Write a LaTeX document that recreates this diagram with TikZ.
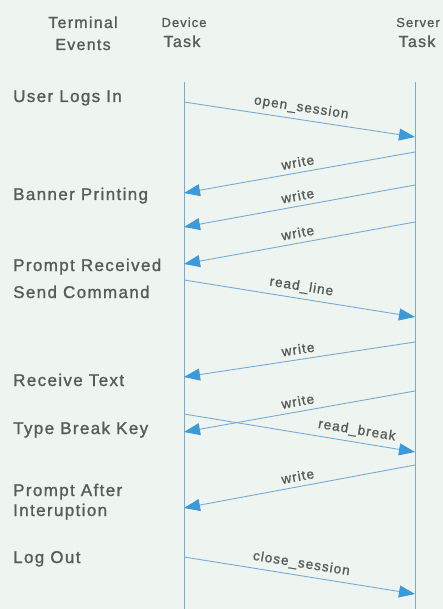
\documentclass[tikz,border=0pt]{standalone}
\usepackage{fontspec}
\setmainfont{Liberation Sans}
\usepackage{xcolor}
\usetikzlibrary{arrows.meta}
\usetikzlibrary{positioning}

\definecolor{paper}{HTML}{EEF4EF}
\definecolor{ink}{HTML}{585B59}
\definecolor{wire}{HTML}{78ABD4}
\definecolor{tipblue}{HTML}{3C9AD8}

\newfontfamily\trackfont{Liberation Sans}[LetterSpace=8, FakeBold=1.2]

\begin{document}
\begin{tikzpicture}[
  x=1pt, y=-1pt,
  every node/.style={inner sep=0pt, text=ink},
  event/.style={anchor=base west, font=\trackfont\fontsize{17}{18}\selectfont},
  head/.style={anchor=base, font=\trackfont\fontsize{16}{17}\selectfont},
  smallhead/.style={anchor=base, font=\trackfont\fontsize{13}{14}\selectfont},
  life/.style={draw=wire, line width=0.9pt},
  msg/.style={draw=wire, line width=0.9pt, -{Triangle[length=16pt, width=12pt, color=tipblue]}},
  lbl/.style={midway, above=5pt, sloped, font=\trackfont\fontsize{13.5}{14}\selectfont},
]
\useasboundingbox (0,0) rectangle (443,609);
\fill[paper] (0,0) rectangle (443,609);

% Column headings
\node[head]      (term)  at (83,28)  {Terminal};
\node[head]      (evts)  at (83,50)  {Events};
\node[smallhead] (dev)   at (184,27) {Device};
\node[head]      (dtask) at (182,47) {Task};
\node[smallhead] (srv)   at (418,27) {Server};
\node[head]      (stask) at (417,47) {Task};

% Lifelines
\coordinate (dtop) at (184,82);
\coordinate (dbot) at (184,609);
\coordinate (stop) at (415,82);
\coordinate (sbot) at (415,609);
\draw[life] (dtop) -- (dbot);
\draw[life] (stop) -- (sbot);

% Terminal events
\node[event] (login)   at (13,102) {User Logs In};
\node[event] (banner)  at (13,200) {Banner Printing};
\node[event] (prompt)  at (13,271) {Prompt Received};
\node[event] (sendcmd) at (13,298) {Send Command};
\node[event] (recv)    at (13,386) {Receive Text};
\node[event] (brk)     at (13,434) {Type Break Key};
\node[event] (after)   at (13,496) {Prompt After};
\node[event] (interup) at (13,516) {Interuption};
\node[event] (logout)  at (13,563) {Log Out};

% Points on the device lifeline
\coordinate (d1)  at (184,102);
\coordinate (d2)  at (184,193);
\coordinate (d3)  at (184,227);
\coordinate (d4)  at (184,264);
\coordinate (d5)  at (184,280);
\coordinate (d6)  at (184,377);
\coordinate (d7)  at (184,432);
\coordinate (d8)  at (184,414);
\coordinate (d9)  at (184,508);
\coordinate (d10) at (184,557);

% Points on the server lifeline
\coordinate (s1)  at (415,137);
\coordinate (s2)  at (415,152);
\coordinate (s3)  at (415,185);
\coordinate (s4)  at (415,222);
\coordinate (s5)  at (415,317);
\coordinate (s6)  at (415,342);
\coordinate (s7)  at (415,391);
\coordinate (s8)  at (415,452);
\coordinate (s9)  at (415,465);
\coordinate (s10) at (415,594);

% Messages
\draw[msg] (d1) -- node[lbl] {open\_session} (s1);
\draw[msg] (s2) -- node[lbl] {write} (d2);
\draw[msg] (s3) -- node[lbl] {write} (d3);
\draw[msg] (s4) -- node[lbl] {write} (d4);
\draw[msg] (d5) -- node[lbl] {read\_line} (s5);
\draw[msg] (s6) -- node[lbl] {write} (d6);
\draw[msg] (s7) -- node[lbl] {write} (d7);
\draw[msg] (d8) -- node[lbl, pos=0.74] {read\_break} (s8);
\draw[msg] (s9) -- node[lbl] {write} (d9);
\draw[msg] (d10) -- node[lbl] {close\_session} (s10);

\end{tikzpicture}
\end{document}
